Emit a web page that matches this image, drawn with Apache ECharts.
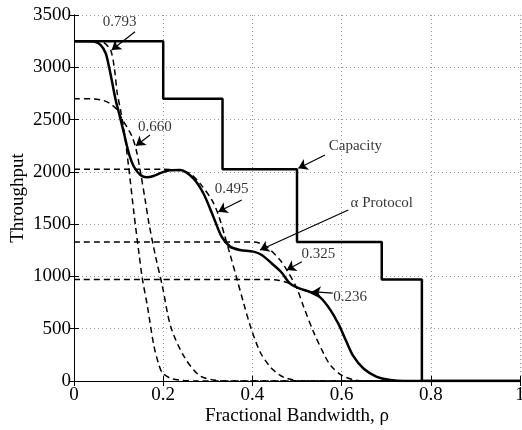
<!DOCTYPE html>
<html>
<head>
<meta charset="utf-8">
<script src="https://cdn.jsdelivr.net/npm/echarts@6/dist/echarts.min.js"></script>
<style>
  html, body { margin: 0; padding: 0; background: #fff; }
  #chart { width: 522px; height: 430px; }
</style>
</head>
<body>
<div id="chart"></div>
<script>
// capacity steps
var capX = [0, 0.2, 0.333, 0.5, 0.69, 0.78, 1];
var capY = [3250, 2700, 2025, 1330, 970, 0, 0];

// alpha protocol (solid)
var alphaX = [0, 0.03, 0.045, 0.06, 0.071, 0.0785, 0.086, 0.0934, 0.101, 0.112, 0.123, 0.1345, 0.149, 0.163, 0.178, 0.195, 0.215, 0.238, 0.2675, 0.29, 0.3124, 0.331, 0.35, 0.372, 0.402, 0.421, 0.443, 0.465, 0.484, 0.505, 0.53, 0.552, 0.574, 0.593, 0.61, 0.626, 0.649, 0.679, 0.709, 0.74, 0.8, 1];
var alphaY = [3250, 3250, 3245, 3213, 3134, 3006, 2847, 2687, 2560, 2370, 2177, 2049, 1970, 1948, 1960, 1990, 2015, 2018, 1938, 1795, 1571, 1380, 1285, 1253, 1237, 1205, 1126, 1040, 934, 885, 850, 800, 685, 545, 385, 240, 120, 40, 10, 0, 0, 0];

// fixed-alpha curves (dashed)
var aX = [0, 0.05, 0.067, 0.082, 0.09, 0.097, 0.104, 0.112, 0.123, 0.1345, 0.1457, 0.1532, 0.1644, 0.179, 0.19, 0.198, 0.217, 0.239, 0.27, 1];
var aY = [3250, 3250, 3235, 3165, 3006, 2751, 2600, 2400, 2030, 1600, 1220, 980, 720, 340, 160, 80, 25, 8, 0, 0];

var bX = [0, 0.045, 0.067, 0.082, 0.097, 0.107, 0.12, 0.13, 0.139, 0.149, 0.16, 0.168, 0.183, 0.198, 0.217, 0.247, 0.28, 0.31, 0.35, 1];
var bY = [2700, 2697, 2681, 2649, 2592, 2510, 2420, 2340, 2220, 2000, 1720, 1508, 1189, 910, 519, 232, 57, 12, 0, 0];

var cX = [0, 0.2, 0.225, 0.245, 0.26, 0.2825, 0.309, 0.3236, 0.3386, 0.35, 0.365, 0.38, 0.395, 0.417, 0.439, 0.46, 0.477, 0.51, 1];
var cY = [2025, 2025, 2020, 2005, 1986, 1890, 1731, 1590, 1380, 1210, 980, 750, 530, 280, 140, 60, 25, 0, 0];

var dX = [0, 0.4, 0.415, 0.432, 0.462, 0.477, 0.4993, 0.514, 0.537, 0.563, 0.577, 0.6, 0.626, 0.65, 1];
var dY = [1330, 1330, 1320, 1285, 1157, 1062, 890, 720, 470, 235, 140, 55, 12, 0, 0];

var eX = [0, 0.44, 0.46, 0.484, 0.505, 0.53, 0.552, 0.574, 0.593, 0.61, 0.626, 0.649, 0.679, 0.709, 0.74, 1];
var eY = [970, 970, 962, 932, 885, 850, 800, 685, 545, 385, 240, 120, 40, 10, 0, 0];

// annotations
var noteText = ['0.793', '0.660', '0.495', 'Capacity', 'α Protocol', '0.325', '0.236'];
var noteAt = [[0.1025, 3436], [0.1816, 2432], [0.3536, 1836], [0.631, 2243], [0.69, 1697], [0.548, 1214], [0.619, 803]];
var arrowFrom = [[0.1368, 3340], [0.1704, 2353], [0.376, 1731], [0.5628, 2161], [0.615, 1635], [0.511, 1141], [0.58, 840]];
var arrowTo = [[0.0845, 3165], [0.139, 2250], [0.3236, 1619], [0.503, 2034], [0.417, 1253], [0.477, 1062], [0.533, 854]];

var FONT = "'Liberation Serif', 'Times New Roman', serif";

function pairs(xs, ys) {
    var out = [];
    for (var i = 0; i < xs.length; i++) out.push([xs[i], ys[i]]);
    return out;
}

function dashed(xs, ys) {
    return {
        type: 'line', data: pairs(xs, ys), showSymbol: false, smooth: 0.3,
        lineStyle: { color: '#000', width: 1.5, type: [6, 4] }, z: 2
    };
}

var notes = [];
for (var i = 0; i < noteText.length; i++) {
    notes.push({ name: noteText[i], value: noteAt[i] });
}
var arrows = [];
for (var j = 0; j < arrowFrom.length; j++) {
    arrows.push([
        { coord: arrowFrom[j], symbol: 'none' },
        { coord: arrowTo[j], symbol: 'arrow', symbolSize: 9 }
    ]);
}

var option = {
    animation: false,
    grid: { left: 74, right: 2, top: 15, bottom: 49, outerBoundsMode: 'none', containLabel: false },
    xAxis: [{
        type: 'value', min: 0, max: 1, interval: 0.2,
        name: 'Fractional Bandwidth, ρ', nameLocation: 'middle', nameGap: 26, nameMoveOverlap: false,
        nameTextStyle: { fontFamily: FONT, fontSize: 19, color: '#000' },
        axisLine: { lineStyle: { color: '#000', width: 1 } },
        axisTick: { inside: true, length: 5, lineStyle: { color: '#000' } },
        axisLabel: { fontFamily: FONT, fontSize: 19, color: '#000', margin: 5, formatter: function (v) { return String(v); } },
        splitLine: { show: true, lineStyle: { color: '#999', type: [1, 3] } }
    }, {
        type: 'value', min: 0, max: 1, interval: 0.2, position: 'top',
        axisLine: { lineStyle: { color: '#000', width: 1 } },
        axisTick: { inside: true, length: 5, lineStyle: { color: '#000' } },
        axisLabel: { show: false }, splitLine: { show: false }
    }],
    yAxis: [{
        type: 'value', min: 0, max: 3500, interval: 500,
        name: 'Throughput', nameLocation: 'middle', nameGap: 46, nameMoveOverlap: false,
        nameTextStyle: { fontFamily: FONT, fontSize: 19, color: '#000' },
        axisLine: { show: true, lineStyle: { color: '#000', width: 1 } },
        axisTick: { show: true, inside: true, length: 5, lineStyle: { color: '#000' } },
        axisLabel: { fontFamily: FONT, fontSize: 19, color: '#000', margin: 3, formatter: function (v) { return String(v); } },
        splitLine: { show: true, lineStyle: { color: '#999', type: [1, 3] } }
    }, {
        type: 'value', min: 0, max: 3500, interval: 500, position: 'right',
        axisLine: { show: true, lineStyle: { color: '#000', width: 1 } },
        axisTick: { show: true, inside: true, length: 5, lineStyle: { color: '#000' } },
        axisLabel: { show: false }, splitLine: { show: false }
    }],
    series: [
        dashed(aX, aY), dashed(bX, bY), dashed(cX, cY), dashed(dX, dY), dashed(eX, eY),
        {
            type: 'line', data: pairs(alphaX, alphaY), showSymbol: false, smooth: 0.3,
            lineStyle: { color: '#000', width: 2.5 }, z: 3
        },
        {
            type: 'line', data: pairs(capX, capY), step: 'end', showSymbol: false,
            lineStyle: { color: '#000', width: 2.5 }, z: 4
        },
        {
            type: 'scatter', data: notes, symbolSize: 0, z: 5, silent: true,
            label: { show: true, position: 'inside', formatter: '{b}', fontFamily: FONT, fontSize: 15, color: '#000' },
            markLine: {
                silent: true, symbol: ['none', 'arrow'], symbolSize: 9,
                label: { show: false },
                lineStyle: { color: '#000', width: 1.2, type: 'solid' },
                data: arrows
            }
        }
    ]
};

echarts.init(document.getElementById('chart')).setOption(option);
</script>
</body>
</html>
